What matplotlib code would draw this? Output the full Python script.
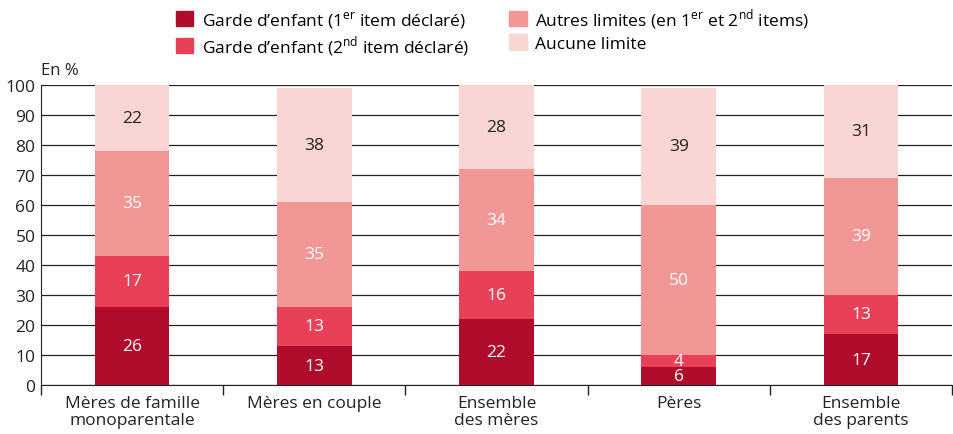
import numpy as np
import matplotlib.pyplot as plt
from matplotlib.patches import Patch

plt.rcParams['font.family'] = ['Open Sans', 'DejaVu Sans']
plt.rcParams['mathtext.fontset'] = 'custom'
plt.rcParams['mathtext.rm'] = 'Open Sans'

# Données
categories = ["Mères de famille\nmonoparentale", "Mères en couple", "Ensemble\ndes mères",
              "Pères", "Ensemble\ndes parents"]
garde_1er = [26, 13, 22, 6, 17]
garde_2nd = [17, 13, 16, 4, 13]
autres = [35, 35, 34, 50, 39]
aucune = [22, 38, 28, 39, 31]

series = [garde_1er, garde_2nd, autres, aucune]
labels = [r"Garde d’enfant (1$^{\mathregular{er}}$ item déclaré)",
          r"Garde d’enfant (2$^{\mathregular{nd}}$ item déclaré)",
          r"Autres limites (en 1$^{\mathregular{er}}$ et 2$^{\mathregular{nd}}$ items)",
          "Aucune limite"]
colors = ["#B00D2D", "#E84057", "#F19896", "#F9D6D3"]
text_colors = ["white", "white", "white", "#222222"]

fig = plt.figure(figsize=(9.54, 4.35), dpi=100)
ax = fig.add_axes([0.043, 0.1126, 0.955, 0.69])

x = np.arange(len(categories))
bottom = np.zeros(len(categories))
for vals, col, tcol in zip(series, colors, text_colors):
    vals = np.array(vals, dtype=float)
    ax.bar(x, vals, width=0.41, bottom=bottom, color=col, zorder=3)
    for xi, b, v in zip(x, bottom, vals):
        ax.text(xi, b + v / 2, f"{v:.0f}", ha='center', va='center',
                color=tcol, fontsize=12.5, zorder=4)
    bottom += vals

ax.set_xlim(-0.5, len(categories) - 0.5)
ax.set_ylim(0, 100)
ax.set_yticks(np.arange(0, 101, 10))
ax.yaxis.grid(True, color='#222222', linewidth=0.9, zorder=0)
ax.set_axisbelow(True)
ax.tick_params(axis='y', length=0, labelsize=12.5, pad=4, colors='#222222')

# séparateurs entre catégories
ax.set_xticks(np.arange(-0.5, len(categories)), minor=False)
ax.set_xticklabels([])
ax.tick_params(axis='x', which='major', length=7, width=1, direction='out', color='#222222')
ax.set_xticks(x, minor=True)
ax.set_xticklabels(categories, minor=True, fontsize=12.5, color='#222222', linespacing=1.1)
ax.tick_params(axis='x', which='minor', length=0, pad=7)

for s in ['top', 'right']:
    ax.spines[s].set_visible(False)
ax.spines['left'].set_color('#222222')
ax.spines['bottom'].set_color('#222222')

fig.text(0.043, 0.837, "En %", fontsize=12, color='#222222', ha='left', va='center')

handles = [Patch(color=c) for c in colors]
fig.legend(handles, labels, ncol=2, loc='upper left', bbox_to_anchor=(0.168, 1.02),
           frameon=False, fontsize=12.5, handlelength=1.0, handleheight=1.0,
           handletextpad=0.5, columnspacing=2.3, labelspacing=0.2)

fig.savefig("out.png", dpi=100)
